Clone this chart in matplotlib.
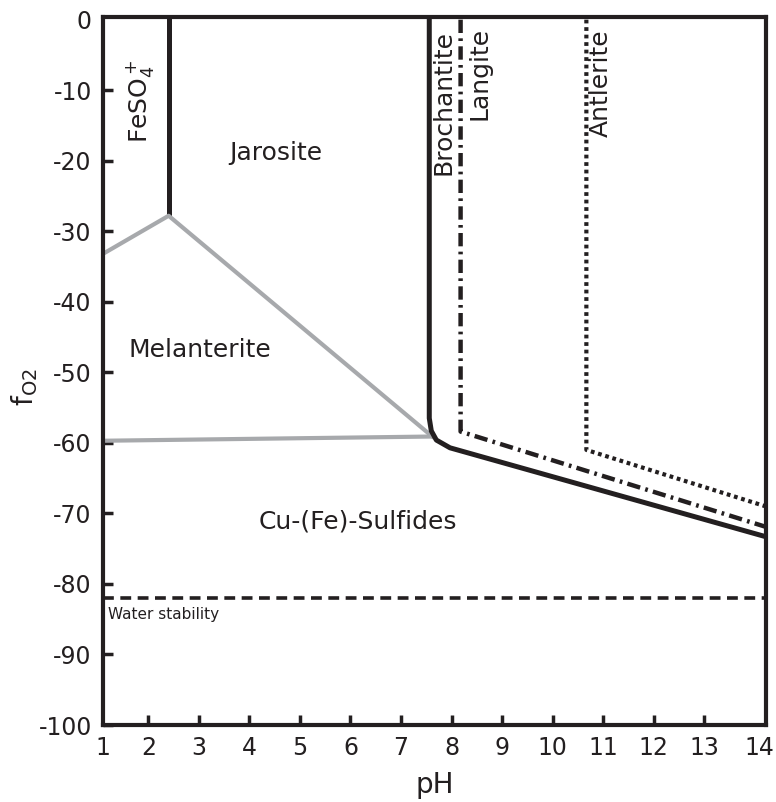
import matplotlib.pyplot as plt

plt.rcParams['axes.unicode_minus'] = False

# boundary lines, (pH, fO2)
feso4_x = [2.4, 2.4]
feso4_y = [0.5, -27.8]
mel_upper_x = [1.1, 2.4, 7.62]
mel_upper_y = [-33.2, -27.8, -59.1]
mel_lower_x = [1.1, 7.62]
mel_lower_y = [-59.7, -59.1]
broch_x = [7.56, 7.56, 7.60, 7.70, 7.97, 14.22]
broch_y = [0.5, -56.5, -58.3, -59.6, -60.7, -73.3]
lang_x = [8.18, 8.18, 14.22]
lang_y = [0.0, -58.4, -71.9]
antl_x = [10.67, 10.67, 14.22]
antl_y = [0.0, -61.0, -69.0]
water_x = [1.1, 14.22]
water_y = [-82.0, -82.0]

xticks = [1.1, 2, 3, 4, 5, 6, 7, 8, 9, 10, 11, 12, 13, 14.1]
xticklabels = ['1', '2', '3', '4', '5', '6', '7', '8', '9', '10', '11', '12', '13', '14']
yticks = [0, -10, -20, -30, -40, -50, -60, -70, -80, -90, -100]

k = '#231f20'
grey = '#a7a9ac'

fig = plt.figure(figsize=(7.76, 8.02), dpi=100)
ax = fig.add_axes([0.1327, 0.096, 0.854, 0.883])

ax.plot(feso4_x, feso4_y, color=k, lw=3.6, solid_capstyle='butt')
ax.plot(mel_upper_x, mel_upper_y, color=grey, lw=3)
ax.plot(mel_lower_x, mel_lower_y, color=grey, lw=3)
ax.plot(broch_x, broch_y, color=k, lw=3.6, solid_joinstyle='round')
ax.plot(lang_x, lang_y, color=k, lw=3.2, linestyle=(0, (3, 1.2, 0.6, 1.2)))
ax.plot(antl_x, antl_y, color=k, lw=3, linestyle=(0, (0.9, 0.9)))
ax.plot(water_x, water_y, color=k, lw=2.6, linestyle=(0, (3, 1.8)))

fs = 18
ax.text(1.84, -11.5, 'FeSO$_4^+$', rotation=90, fontsize=fs, color=k,
        ha='center', va='center')
ax.text(4.53, -18.9, 'Jarosite', fontsize=fs, color=k, ha='center', va='center')
ax.text(3.01, -46.8, 'Melanterite', fontsize=fs, color=k, ha='center', va='center')
ax.text(6.14, -71.2, 'Cu-(Fe)-Sulfides', fontsize=fs, color=k, ha='center', va='center')
ax.text(1.2, -84.3, 'Water stability', fontsize=11, color=k, ha='left', va='center')
ax.text(7.84, -11.8, 'Brochantite', rotation=90, fontsize=fs, color=k,
        ha='center', va='center')
ax.text(8.55, -7.6, 'Langite', rotation=90, fontsize=fs, color=k,
        ha='center', va='center')
ax.text(10.95, -9.0, 'Antlerite', rotation=90, fontsize=fs, color=k,
        ha='center', va='center')

ax.set_xlim(1.1, 14.22)
ax.set_ylim(-100, 0.4)
ax.set_xticks(xticks)
ax.set_xticklabels(xticklabels)
ax.set_yticks(yticks)
ax.tick_params(direction='in', length=7, width=2.5, color=k, labelcolor=k,
               labelsize=17, pad=8)
# end labels sit on the spines, no tick marks there
ax.xaxis.get_major_ticks()[-1].tick1line.set_visible(False)
ax.xaxis.get_major_ticks()[0].tick1line.set_visible(False)
ax.yaxis.get_major_ticks()[0].tick1line.set_visible(False)
for s in ax.spines.values():
    s.set_linewidth(3)
    s.set_color(k)

ax.set_xlabel('pH', fontsize=20, color=k, labelpad=8)
ax.set_ylabel('f$_{\\mathrm{O2}}$', fontsize=20, color=k)
ax.yaxis.set_label_coords(-0.095, 0.477)

fig.savefig('out.png', dpi=100)
